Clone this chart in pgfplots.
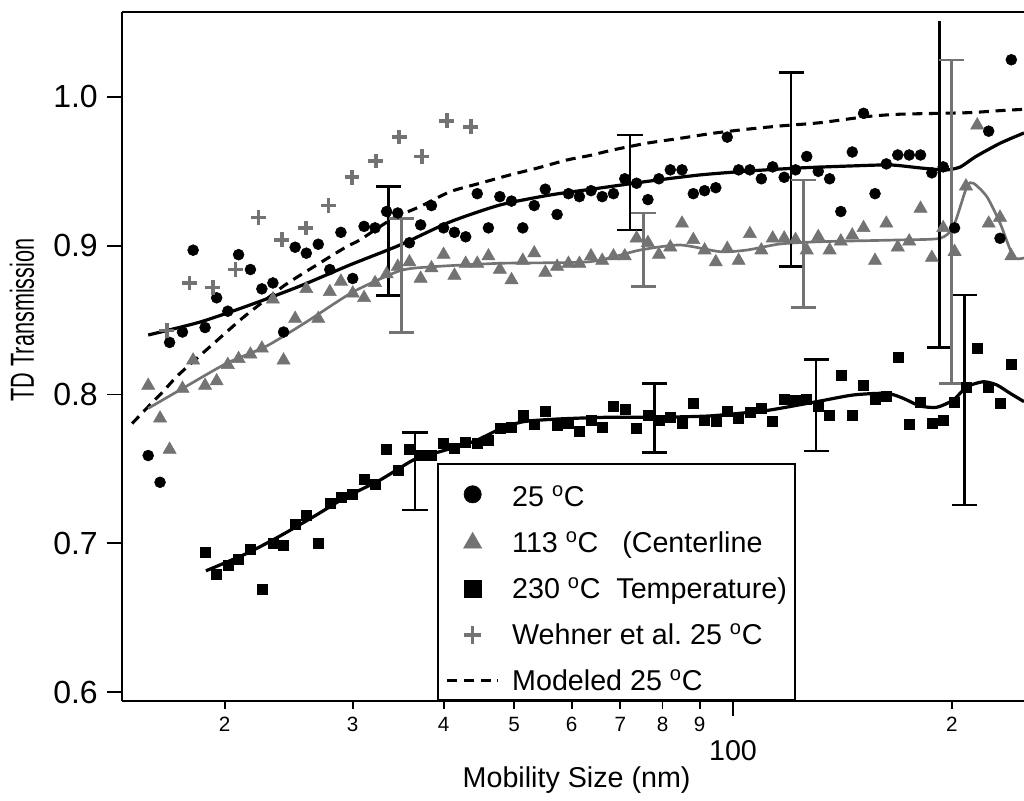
\documentclass[border=0pt]{standalone}
\usepackage{fontspec}
\setmainfont{Liberation Sans}
\usepackage{pgfplots}
\pgfplotsset{compat=1.18}
\definecolor{midgray}{RGB}{115,115,115}

\pgfplotsset{
  legmark/.style 2 args={legend image code/.code={%
    \draw[mark repeat=2,mark phase=2,##1,mark size=#1]
      plot coordinates {(0pt,#2) (19pt,#2) (38pt,#2)};}},
  legline/.style={legend image code/.code={%
    \draw[##1] (0pt,1pt) -- (38pt,1pt);}},
  ebar/.style={forget plot, draw=none, mark=none,
    error bars/y explicit,
    error bars/error bar style={draw=#1, solid, line width=2pt},
    error bars/error mark options={rotate=90, mark size=9.4pt, line width=2pt, draw=#1}},
}

\begin{document}
\begin{tikzpicture}
\begin{axis}[
  scale only axis,
  width=676.5pt, height=516.75pt,
  xmode=log,
  xmin=14.45, xmax=251.3,
  ymin=0.594, ymax=1.0571,
  axis x line*=box, axis y line*=left,
  xtick pos=left, ytick pos=left,
  tick align=outside,
  major tick length=11pt,
  axis line style={line width=1.4pt},
  every tick/.style={black, line width=1.4pt},
  xtick={100}, xticklabels={100},
  minor xtick={},
  extra x ticks={20,30,40,50,60,70,80,90,200},
  extra x tick labels={2,3,4,5,6,7,8,9,2},
  extra x tick style={major tick length=6pt,
    xticklabel style={font=\fontsize{15.5}{18}\selectfont, yshift=16.25pt}},
  xticklabel style={font=\fontsize{21.5}{24}\selectfont, anchor=base, yshift=-33.25pt},
  ytick={0.6,0.7,0.8,0.9,1.0},
  yticklabels={0.6,0.7,0.8,0.9,1.0},
  yticklabel style={font=\fontsize{24}{28}\selectfont, anchor=east, inner sep=0pt, xshift=-7pt},
  xlabel={Mobility Size (nm)},
  ylabel={TD Transmission},
  xlabel style={at={(axis description cs:0.504,-0.1147)}, anchor=center,
    font=\fontsize{21.5}{24}\selectfont},
  ylabel style={at={(axis description cs:-0.1109,0.553)}, anchor=center,
    font=\fontsize{25}{27}\selectfont, xscale=0.65},
  legend cell align=left,
  legend style={
    at={(axis description cs:0.3492,0.3454)}, anchor=north west,
    draw=black, line width=1.2pt,
    inner xsep=6pt, inner ysep=1.5pt,
    column sep=9.5pt, row sep=11.5pt,
    font=\fontsize{21.5}{24}\selectfont,
    nodes={inner sep=0pt, text depth=5pt},
  },
]

% 25 C
\addplot[only marks, mark=*, mark size=4.1pt,
  mark options={fill=black, draw=black, line width=0.4pt}, legmark={6.5pt}{-3.5pt}] coordinates {
(15.7,0.759) (16.3,0.741) (16.8,0.835) (17.5,0.842) (18.1,0.897) (18.8,0.845)
(19.5,0.865) (20.2,0.856) (20.9,0.894) (21.7,0.884) (22.5,0.871) (23.3,0.875)
(24.1,0.842) (25.0,0.899) (25.9,0.895) (26.9,0.901) (27.9,0.884) (28.9,0.909)
(30.0,0.878) (31.1,0.913) (32.2,0.912) (33.4,0.923) (34.6,0.922) (35.9,0.902)
(37.2,0.914) (38.5,0.927) (40.0,0.912) (41.4,0.909) (42.9,0.906) (44.5,0.935)
(46.1,0.912) (47.8,0.933) (49.6,0.930) (51.4,0.912) (53.3,0.927) (55.2,0.938)
(57.3,0.921) (59.4,0.935) (61.5,0.933) (63.8,0.937) (66.1,0.933) (68.5,0.935)
(71.0,0.945) (73.7,0.942) (76.4,0.931) (79.1,0.945) (82.0,0.951) (85.1,0.951)
(88.2,0.935) (91.4,0.937) (94.7,0.939) (98.2,0.973) (101.8,0.951) (105.5,0.951)
(109.4,0.945) (113.4,0.953) (117.6,0.946) (121.9,0.951) (126.3,0.960) (131.0,0.950)
(135.8,0.945) (140.7,0.923) (145.9,0.963) (151.2,0.989) (156.8,0.935) (162.5,0.955)
(168.5,0.961) (174.7,0.961) (181.1,0.961) (187.7,0.949) (194.6,0.953) (201.7,0.912)
(224.7,0.977) (232.9,0.905) (241.4,1.025)
};
\addlegendentry{\rule{0pt}{30.75pt}25 \textsuperscript{o}C}

% 113 C
\addplot[only marks, mark=triangle*, mark size=5.7pt,
  mark options={fill=midgray, draw=midgray, line width=0.4pt}, legmark={7.8pt}{1pt}] coordinates {
(15.7,0.806) (16.3,0.784) (16.8,0.763) (17.5,0.804) (18.1,0.823) (18.8,0.806)
(19.5,0.809) (20.2,0.820) (20.9,0.824) (21.7,0.827) (22.5,0.831) (23.3,0.864)
(24.1,0.823) (25.0,0.851) (25.9,0.871) (26.9,0.851) (27.9,0.869) (28.9,0.876)
(30.0,0.868) (31.1,0.865) (32.2,0.875) (33.4,0.881) (34.6,0.886) (35.9,0.889)
(37.2,0.878) (38.5,0.885) (40.0,0.894) (41.4,0.880) (42.9,0.888) (44.5,0.888)
(46.1,0.893) (47.8,0.884) (49.6,0.877) (51.4,0.890) (53.3,0.895) (55.2,0.882)
(57.3,0.886) (59.4,0.888) (61.5,0.888) (63.8,0.893) (66.1,0.890) (68.5,0.893)
(71.0,0.893) (73.7,0.905) (76.4,0.902) (79.1,0.894) (82.0,0.899) (85.1,0.915)
(88.2,0.904) (91.4,0.897) (94.7,0.889) (98.2,0.898) (101.8,0.890) (105.5,0.908)
(109.4,0.897) (113.4,0.905) (117.6,0.905) (121.9,0.904) (126.3,0.897) (131.0,0.906)
(135.8,0.897) (140.7,0.903) (145.9,0.907) (151.2,0.912) (156.8,0.890) (162.5,0.915)
(168.5,0.899) (174.7,0.903) (181.1,0.925) (187.7,0.892) (194.6,0.912) (201.7,0.896)
(209.1,0.940) (216.7,0.981) (224.7,0.915) (232.9,0.919) (241.4,0.893)
};
\addlegendentry{\rule{0pt}{18pt}113 \textsuperscript{o}C\ \ \ (Centerline}

% 230 C
\addplot[only marks, mark=square*, mark size=3.75pt,
  mark options={fill=black, draw=black, line width=0.4pt}, legmark={6.5pt}{1pt}] coordinates {
(18.8,0.694) (19.5,0.679) (20.2,0.685) (20.9,0.689) (21.7,0.696) (22.5,0.669)
(23.3,0.700) (24.1,0.699) (25.0,0.713) (25.9,0.719) (26.9,0.700) (27.9,0.727)
(28.9,0.731) (30.0,0.733) (31.1,0.743) (32.2,0.740) (33.4,0.763) (34.6,0.749)
(35.9,0.763) (37.2,0.759) (38.5,0.759) (40.0,0.767) (41.4,0.764) (42.9,0.768)
(44.5,0.767) (46.1,0.769) (47.8,0.777) (49.6,0.778) (51.4,0.786) (53.3,0.780)
(55.2,0.789) (57.3,0.779) (59.4,0.781) (61.5,0.775) (63.8,0.783) (66.1,0.778)
(68.5,0.792) (71.0,0.790) (73.7,0.777) (76.4,0.786) (79.1,0.783) (82.0,0.785)
(85.1,0.781) (88.2,0.794) (91.4,0.783) (94.7,0.782) (98.2,0.789) (101.8,0.784)
(105.5,0.788) (109.4,0.791) (113.4,0.782) (117.6,0.797) (121.9,0.796) (126.3,0.797)
(131.0,0.792) (135.8,0.786) (140.7,0.813) (145.9,0.786) (151.2,0.806) (156.8,0.797)
(162.5,0.799) (168.5,0.825) (174.7,0.780) (181.1,0.795) (187.7,0.781) (194.6,0.783)
(201.7,0.795) (209.1,0.805) (216.7,0.831) (224.7,0.805) (232.9,0.794) (241.4,0.820)
};
\addlegendentry{\rule{0pt}{18pt}230 \textsuperscript{o}C\ \ Temperature)}

% Wehner et al.
\addplot[only marks, mark=+, mark size=5.5pt, line width=2.7pt, midgray,
  mark options={draw=midgray, line width=2.7pt},
  every mark/.append style={line width=2.7pt}, legmark={6.6pt}{1pt}] coordinates {
(16.65,0.843) (17.90,0.875) (19.26,0.872) (20.70,0.884) (22.26,0.919) (23.96,0.904)
(25.85,0.912) (27.77,0.927) (29.93,0.946) (32.27,0.957) (34.76,0.973) (37.33,0.960)
(40.40,0.984) (43.60,0.980)
};
\addlegendentry{\rule{0pt}{18pt}Wehner et al.\ 25 \textsuperscript{o}C}

% modeled
\addplot[black, line width=2.3pt, dash pattern=on 7.5pt off 5pt, smooth, tension=0.4, legline] coordinates {
(14.92,0.7805) (15.70,0.7918) (16.45,0.8019) (17.27,0.8131) (18.99,0.8311) (20.95,0.8496)
(21.90,0.8572) (24.21,0.8736) (26.77,0.8871) (29.43,0.8994) (30.69,0.9039) (34.11,0.9185)
(37.13,0.9263) (40.82,0.9363) (44.89,0.9420) (49.37,0.9476) (53.73,0.9521) (59.07,0.9576)
(63.61,0.9607) (68.41,0.9644) (76.10,0.9689) (84.59,0.9722) (93.89,0.9756) (104.5,0.9783)
(116.1,0.9805) (131.8,0.9827) (152.8,0.9868) (169.7,0.9884) (209.7,0.9894) (233.0,0.9908)
(251.3,0.9917)
};
\addlegendentry{\rule{0pt}{18pt}Modeled 25 \textsuperscript{o}C}

% fit 25 C
\addplot[forget plot, black, line width=2.4pt, smooth, tension=0.4] coordinates {
(15.70,0.8400) (18.50,0.8487) (21.68,0.8602) (25.39,0.8729) (29.74,0.8871) (34.85,0.9005)
(40.82,0.9160) (47.83,0.9274) (56.03,0.9341) (65.65,0.9388) (76.91,0.9435) (90.11,0.9476)
(105.6,0.9503) (123.7,0.9523) (144.9,0.9536) (164.5,0.9543) (180.9,0.9523) (195.7,0.9509)
(205.3,0.9529) (215.3,0.9597) (233.0,0.9689) (251.3,0.9758)
};

% fit 113 C
\addplot[forget plot, midgray, line width=2pt, smooth, tension=0.4] coordinates {
(15.70,0.7907) (17.74,0.8057) (20.13,0.8210) (22.85,0.8326) (25.93,0.8489) (30.02,0.8689)
(34.85,0.8832) (38.68,0.8859) (47.83,0.8882) (63.61,0.8893) (74.50,0.8971) (84.59,0.9005)
(96.0,0.8960) (104.5,0.8971) (116.1,0.9012) (131.8,0.9027) (169.7,0.9039) (192.6,0.9050)
(200.9,0.9128) (209.7,0.9397) (214.1,0.9420) (223.4,0.9330) (233.0,0.9151) (243.0,0.8926)
(251.3,0.8918)
};

% fit 230 C
\addplot[forget plot, black, line width=2.4pt, smooth, tension=0.4] coordinates {
(18.85,0.6815) (21.45,0.6932) (23.83,0.7049) (26.48,0.7178) (29.43,0.7313) (32.71,0.7425)
(36.35,0.7560) (38.73,0.7603) (43.92,0.7683) (47.83,0.7768) (51.44,0.7817) (57.24,0.7835)
(67.05,0.7847) (78.56,0.7847) (92.04,0.7855) (102.3,0.7874) (112.5,0.7896) (130.4,0.7952)
(146.4,0.7997) (162.8,0.8008) (171.5,0.7974) (180.8,0.7923) (190.6,0.7914) (200.9,0.7963)
(209.7,0.8052) (221.0,0.8086) (230.6,0.8064) (240.5,0.8008) (251.3,0.7952)
};

% error bars, black
\addplot[ebar=black, error bars/y dir=both] coordinates {
(33.58,0.9031) +- (0,0.0367)
(72.19,0.9425) +- (0,0.0319)
(120.2,0.9511) +- (0,0.0652)
(36.54,0.7485) +- (0,0.0261)
(77.97,0.7842) +- (0,0.0233)
(130.1,0.7929) +- (0,0.0308)
(208.1,0.7963) +- (0,0.0706)
};
\addplot[ebar=black, error bars/y dir=minus] coordinates {
(192.2,0.9415) +- (0,0.1100)
};
\addplot[ebar=black, error bars/y dir=plus, error bars/error mark=none] coordinates {
(192.2,0.9415) +- (0,0.1098)
};

% error bars, gray
\addplot[ebar=midgray, error bars/y dir=both] coordinates {
(35.04,0.8802) +- (0,0.0383)
(75.30,0.8972) +- (0,0.0247)
(125.0,0.9014) +- (0,0.0428)
(199.9,0.9162) +- (0,0.1087)
};

\end{axis}
\pgfresetboundingbox
\path[use as bounding box] (-91.5pt,-74.25pt) rectangle (676.5pt,525.75pt);
\end{tikzpicture}
\end{document}
